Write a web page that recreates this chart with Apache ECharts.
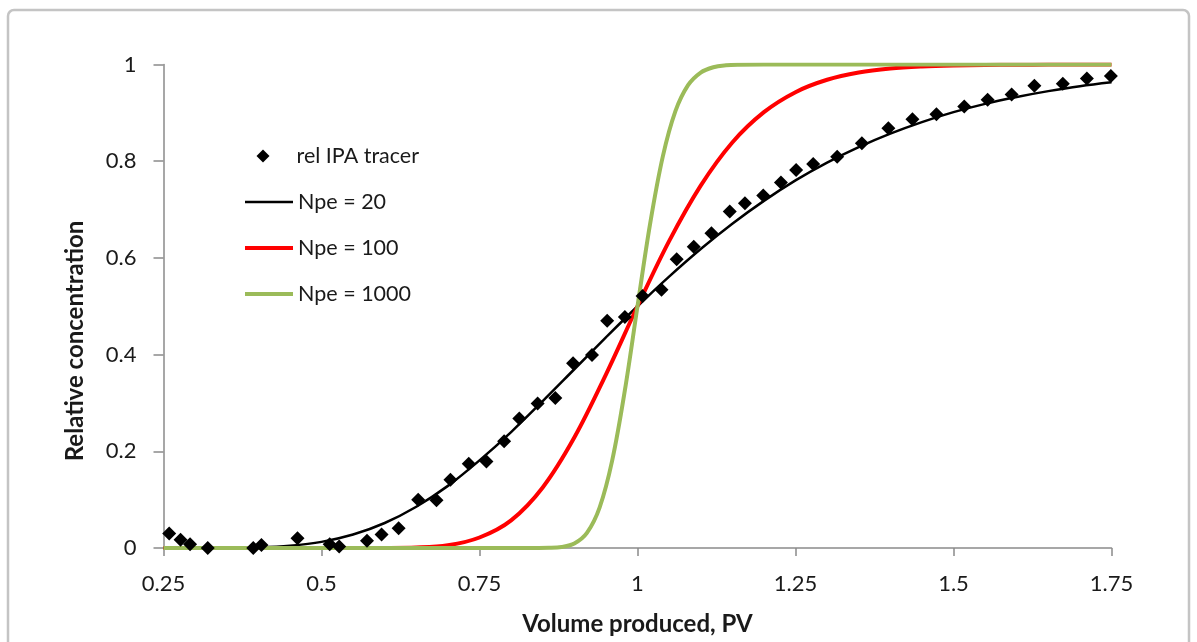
<!DOCTYPE html>
<html>
<head>
<meta charset="utf-8">
<script src="https://cdn.jsdelivr.net/npm/echarts@6/dist/echarts.min.js"></script>
<style>
  html, body { margin: 0; padding: 0; background: #fff; }
  #chart { width: 1197px; height: 642px; }
</style>
</head>
<body>
<div id="chart"></div>
<script>
// Measured tracer points: produced volume (PV) and relative concentration
const tracerPV = [
  0.259, 0.277, 0.292, 0.320, 0.392, 0.405, 0.462, 0.513, 0.528, 0.572,
  0.595, 0.622, 0.653, 0.682, 0.704, 0.733, 0.761, 0.789, 0.813, 0.842,
  0.870, 0.898, 0.928, 0.952, 0.980, 1.008, 1.038, 1.062, 1.089, 1.117,
  1.146, 1.170, 1.199, 1.227, 1.251, 1.278, 1.316, 1.355, 1.397, 1.435,
  1.473, 1.517, 1.554, 1.592, 1.628, 1.673, 1.711, 1.749
];
const tracerC = [
  0.030, 0.017, 0.008, 0.000, 0.000, 0.006, 0.020, 0.008, 0.003, 0.015,
  0.028, 0.041, 0.100, 0.099, 0.141, 0.174, 0.179, 0.221, 0.268, 0.299,
  0.310, 0.382, 0.399, 0.470, 0.478, 0.521, 0.534, 0.597, 0.623, 0.651,
  0.696, 0.713, 0.729, 0.756, 0.782, 0.794, 0.809, 0.837, 0.868, 0.887,
  0.897, 0.913, 0.927, 0.938, 0.956, 0.960, 0.971, 0.976
];

// Dispersion curves, Npe = 20 and Npe = 100 (shared PV grid)
const curvePV = [
  0.25, 0.30, 0.35, 0.40, 0.45, 0.50, 0.55, 0.60, 0.65, 0.70,
  0.75, 0.80, 0.85, 0.90, 0.95, 1.00, 1.05, 1.10, 1.15, 1.20,
  1.25, 1.30, 1.35, 1.40, 1.45, 1.50, 1.55, 1.60, 1.65, 1.70, 1.75
];
const npe20 = [
  0.0000, 0.0000, 0.0003, 0.0014, 0.0049, 0.0127, 0.0278, 0.0517, 0.0854, 0.1285,
  0.1813, 0.2398, 0.3038, 0.3697, 0.4356, 0.5000, 0.5613, 0.6184, 0.6707, 0.7180,
  0.7603, 0.7971, 0.8291, 0.8569, 0.8808, 0.9014, 0.9186, 0.9328, 0.9449, 0.9552, 0.9632
];
const npe100 = [
  0.0000, 0.0000, 0.0000, 0.0000, 0.0000, 0.0000, 0.0000, 0.0001, 0.0010, 0.0057,
  0.0217, 0.0572, 0.1253, 0.2285, 0.3587, 0.5000, 0.6347, 0.7495, 0.8387, 0.9014,
  0.9428, 0.9684, 0.9834, 0.9916, 0.9958, 0.9980, 0.9991, 0.9996, 0.9998, 0.9999, 1.0000
];

// Npe = 1000 front is steep, so it gets its own denser grid around 1 PV
const steepPV = [
  0.25, 0.50, 0.75, 0.80, 0.84, 0.86, 0.88, 0.90, 0.92, 0.94,
  0.96, 0.98, 1.00, 1.02, 1.04, 1.06, 1.08, 1.10, 1.12, 1.14,
  1.16, 1.20, 1.25, 1.50, 1.75
];
const npe1000 = [
  0.0000, 0.0000, 0.0000, 0.0000, 0.0001, 0.0004, 0.0022, 0.0093, 0.0313, 0.0836,
  0.1813, 0.3260, 0.5000, 0.6709, 0.8094, 0.9034, 0.9572, 0.9834, 0.9944, 0.9983,
  0.9995, 1.0000, 1.0000, 1.0000, 1.0000
];

const seriesNames = ['rel IPA tracer', 'Npe = 20', 'Npe = 100', 'Npe = 1000'];
const xTitle = 'Volume produced, PV';
const yTitle = 'Relative concentration';

const pairs = (xs, ys) => xs.map((x, i) => [x, ys[i]]);

const FONT = 'Lato, "Noto Sans", sans-serif';
const AXIS_GRAY = '#8a8a8a';
const legendText = { fontFamily: FONT, fontSize: 21.5, color: '#1a1a1a', lineHeight: 20 };

// One legend block per entry so each key can have its own icon shape
function legendLine(name, top, color, width) {
  return {
    orient: 'vertical', left: 240, top: top,
    itemWidth: 48, itemHeight: width,
    icon: 'rect',
    itemStyle: { color: color, borderWidth: 0 },
    textStyle: legendText,
    data: [name]
  };
}

const chart = echarts.init(document.getElementById('chart'), null, { renderer: 'canvas' });

chart.setOption({
  animation: false,
  backgroundColor: '#ffffff',
  grid: { left: 163.5, right: 85.5, top: 64.5, bottom: 94, containLabel: false },
  xAxis: {
    type: 'value',
    min: 0.25, max: 1.75, interval: 0.25,
    axisLine: { show: true, onZero: false, lineStyle: { color: AXIS_GRAY, width: 1.5 } },
    axisTick: { show: true, inside: false, length: 8, lineStyle: { color: AXIS_GRAY, width: 1.5 } },
    axisLabel: { margin: 25, color: '#1a1a1a', fontFamily: FONT, fontSize: 22 },
    splitLine: { show: false }
  },
  yAxis: {
    type: 'value',
    min: 0, max: 1, interval: 0.2,
    axisLine: { show: true, onZero: false, lineStyle: { color: AXIS_GRAY, width: 1.5 } },
    axisTick: { show: true, inside: false, length: 10, lineStyle: { color: AXIS_GRAY, width: 1.5 } },
    axisLabel: { margin: 27, color: '#1a1a1a', fontFamily: FONT, fontSize: 22 },
    splitLine: { show: false }
  },
  legend: [
    {
      orient: 'vertical', left: 251.5, top: 140,
      itemWidth: 13, itemHeight: 13,
      icon: 'diamond',
      itemStyle: { color: '#000000', borderWidth: 0 },
      textStyle: Object.assign({}, legendText, { padding: [0, 0, 0, 22] }),
      data: [seriesNames[0]]
    },
    legendLine(seriesNames[1], 186, '#000000', 2.5),
    legendLine(seriesNames[2], 232, '#ff0000', 4),
    legendLine(seriesNames[3], 278, '#9bbb59', 4)
  ],
  series: [
    {
      name: seriesNames[1], type: 'line',
      data: pairs(curvePV, npe20),
      smooth: 0.35, symbol: 'none',
      lineStyle: { color: '#000000', width: 2.5 },
      itemStyle: { color: '#000000' },
      z: 2
    },
    {
      name: seriesNames[2], type: 'line',
      data: pairs(curvePV, npe100),
      smooth: 0.35, symbol: 'none',
      lineStyle: { color: '#ff0000', width: 4 },
      itemStyle: { color: '#ff0000' },
      z: 3
    },
    {
      name: seriesNames[3], type: 'line',
      data: pairs(steepPV, npe1000),
      smooth: 0.35, symbol: 'none',
      lineStyle: { color: '#9bbb59', width: 4 },
      itemStyle: { color: '#9bbb59' },
      z: 4
    },
    {
      name: seriesNames[0], type: 'scatter',
      data: pairs(tracerPV, tracerC),
      symbol: 'diamond', symbolSize: 14,
      itemStyle: { color: '#000000', opacity: 1 },
      z: 5
    }
  ],
  graphic: [
    {
      type: 'rect', silent: true, z: -10,
      shape: { x: 8, y: 10, width: 1181, height: 700, r: 6 },
      style: { fill: 'none', stroke: '#c4c4c4', lineWidth: 2.5 }
    },
    {
      type: 'text', silent: true,
      x: 637.5, y: 624,
      style: {
        text: xTitle, fill: '#1a1a1a',
        font: 'bold 24px ' + FONT,
        textAlign: 'center', textVerticalAlign: 'middle'
      }
    },
    {
      type: 'text', silent: true,
      x: 75, y: 341, rotation: Math.PI / 2,
      style: {
        text: yTitle, fill: '#1a1a1a',
        font: 'bold 24px ' + FONT,
        textAlign: 'center', textVerticalAlign: 'middle'
      }
    }
  ]
});
</script>
</body>
</html>
